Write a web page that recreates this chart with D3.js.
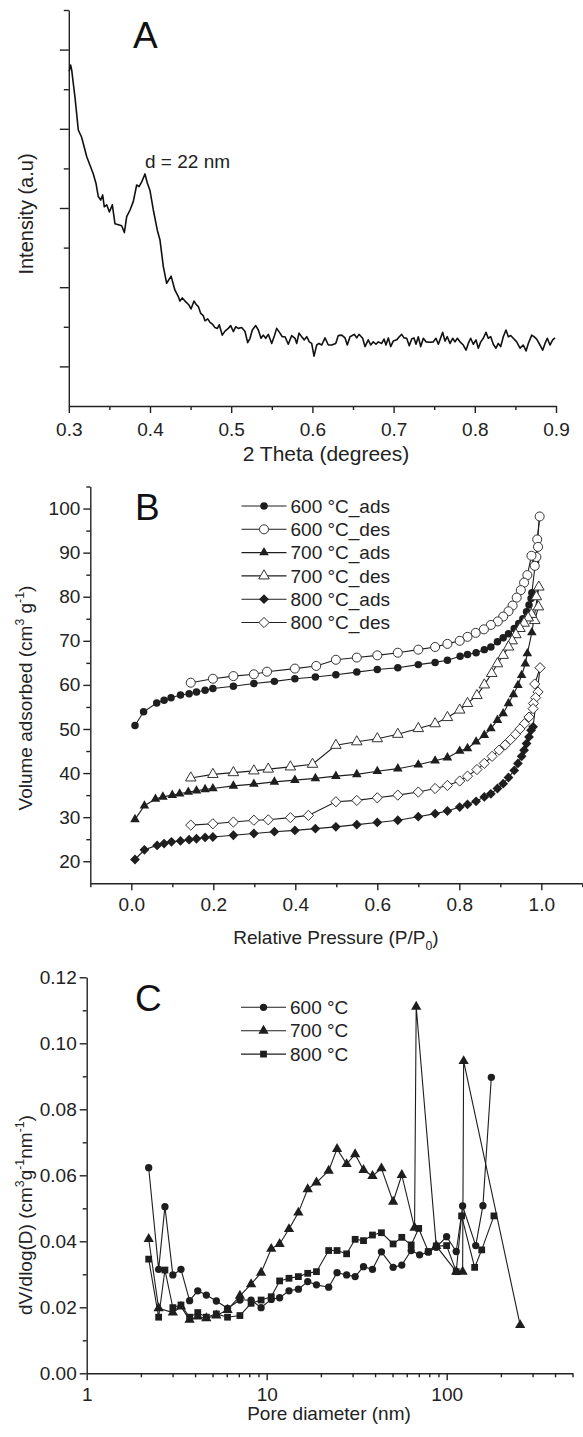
<!DOCTYPE html>
<html>
<head>
<meta charset="utf-8">
<script src="https://cdn.jsdelivr.net/npm/d3@7"></script>
<style>
  body { margin: 0; background: #fff; }
  svg { display: block; font-family: "Liberation Sans", Arial, sans-serif; }
  .axis path, .axis line { stroke: #222; stroke-width: 1.4; }
  .axis text { font-size: 19px; fill: #222; font-family: "Liberation Sans", Arial, sans-serif; }
  .lbl { font-size: 19px; fill: #222; }
</style>
</head>
<body>
<script>
// ---- panel A : low angle XRD, [2 theta, intensity in tick units]
const xrd = [
  [0.3005,8.45],[0.3023,8.61],[0.3036,8.48],[0.3055,8.15],[0.3076,7.80],[0.3117,6.97],[0.3159,6.78],[0.3220,6.30],
  [0.3300,5.87],[0.3335,5.62],[0.3363,5.29],[0.3393,5.20],[0.3417,5.33],[0.3437,5.03],[0.3467,5.08],[0.3500,4.90],
  [0.3536,5.08],[0.3569,4.60],[0.3651,4.55],[0.3684,4.38],[0.3713,4.78],[0.3754,4.95],[0.3794,5.16],[0.3836,5.58],
  [0.3865,5.54],[0.3898,5.66],[0.3938,5.86],[0.3967,5.63],[0.3999,5.45],[0.4041,4.95],[0.4090,4.44],[0.4123,4.19],
  [0.4164,3.52],[0.4205,3.10],[0.4260,3.28],[0.4306,2.93],[0.4349,2.76],[0.4369,2.65],[0.4398,2.73],[0.4431,2.65],
  [0.4480,2.55],[0.4505,2.45],[0.4542,2.65],[0.4567,2.57],[0.4595,2.51],[0.4624,2.34],[0.4656,2.28],[0.4677,2.15],
  [0.4711,2.20],[0.4739,2.11],[0.4772,2.06],[0.4800,1.98],[0.4829,1.96],[0.4853,2.05],[0.4890,1.79],[0.4924,1.89],
  [0.4964,1.96],[0.4994,2.03],[0.5026,1.88],[0.5055,2.00],[0.5087,1.96],[0.5129,1.98],[0.5170,1.88],[0.5203,1.60],
  [0.5232,1.71],[0.5260,1.92],[0.5302,2.03],[0.5334,1.92],[0.5367,1.71],[0.5395,1.79],[0.5425,1.71],[0.5457,1.81],
  [0.5499,1.58],[0.5531,1.77],[0.5560,1.96],[0.5601,1.84],[0.5629,1.75],[0.5663,1.75],[0.5703,1.56],[0.5745,1.78],
  [0.5786,1.71],[0.5807,1.58],[0.5835,1.84],[0.5868,1.75],[0.5900,1.67],[0.5930,1.75],[0.5962,1.62],[0.5991,1.58],
  [0.6020,1.26],[0.6053,1.54],[0.6081,1.58],[0.6115,1.54],[0.6155,1.72],[0.6196,1.54],[0.6238,1.54],[0.6287,1.58],
  [0.6319,1.78],[0.6361,1.79],[0.6402,1.72],[0.6430,1.54],[0.6463,1.75],[0.6491,1.78],[0.6516,1.81],[0.6546,1.72],
  [0.6574,1.81],[0.6619,1.71],[0.6648,1.50],[0.6688,1.67],[0.6718,1.54],[0.6750,1.62],[0.6783,1.56],[0.6812,1.62],
  [0.6853,1.58],[0.6882,1.69],[0.6906,1.54],[0.6935,1.72],[0.6964,1.50],[0.6996,1.64],[0.7038,1.67],[0.7070,1.75],
  [0.7100,1.81],[0.7128,1.72],[0.7161,1.71],[0.7193,1.52],[0.7223,1.69],[0.7251,1.72],[0.7276,1.56],[0.7304,1.75],
  [0.7334,1.50],[0.7366,1.71],[0.7399,1.62],[0.7448,1.61],[0.7489,1.62],[0.7522,1.71],[0.7551,1.56],[0.7580,1.72],
  [0.7605,1.86],[0.7633,1.64],[0.7661,1.75],[0.7695,1.58],[0.7728,1.71],[0.7756,1.62],[0.7785,1.71],[0.7818,1.62],
  [0.7858,1.54],[0.7892,1.41],[0.7920,1.58],[0.7949,1.71],[0.7982,1.56],[0.8015,1.67],[0.8043,1.46],[0.8073,1.62],
  [0.8105,1.71],[0.8138,1.86],[0.8166,1.71],[0.8196,1.75],[0.8228,1.56],[0.8261,1.46],[0.8289,1.58],[0.8319,1.50],
  [0.8351,1.75],[0.8384,1.92],[0.8413,1.75],[0.8442,1.78],[0.8474,1.71],[0.8516,1.62],[0.8557,1.46],[0.8597,1.54],
  [0.8631,1.39],[0.8659,1.58],[0.8701,1.79],[0.8729,1.75],[0.8762,1.69],[0.8803,1.54],[0.8836,1.41],[0.8865,1.58],
  [0.8893,1.71],[0.8926,1.54],[0.8959,1.67],[0.8988,1.72]
];
const xrdTicks = [0.3, 0.4, 0.5, 0.6, 0.7, 0.8, 0.9];

// ---- panel B : N2 isotherms, [P/P0, volume]
const ads600 = [[0.009,50.8],[0.030,53.9],[0.062,55.9],[0.080,56.5],[0.097,57.1],[0.120,57.7],[0.141,58.0],[0.159,58.4],
  [0.180,58.8],[0.199,59.2],[0.249,59.7],[0.299,60.3],[0.349,60.8],[0.399,61.4],[0.449,61.8],[0.499,62.3],[0.550,62.9],
  [0.600,63.5],[0.650,63.9],[0.700,64.6],[0.741,65.1],[0.771,65.6],[0.802,66.5],[0.820,66.9],[0.841,67.3],[0.861,68.0],
  [0.877,68.6],[0.893,69.8],[0.907,70.7],[0.920,71.6],[0.934,72.8],[0.945,73.9],[0.955,75.0],[0.964,76.6],[0.970,78.1],
  [0.975,79.6],[0.977,80.9],[0.986,88.0],[0.996,98.2]];
const des600 = [[0.996,98.2],[0.990,93.0],[0.992,91.3],[0.988,89.0],[0.984,87.0],[0.976,89.3],[0.966,84.9],[0.958,83.2],
  [0.950,81.5],[0.940,79.8],[0.930,78.0],[0.920,76.7],[0.907,75.5],[0.894,74.4],[0.877,73.6],[0.860,72.6],[0.840,71.8],
  [0.820,70.9],[0.801,70.0],[0.771,69.3],[0.741,68.6],[0.700,68.0],[0.650,67.3],[0.600,66.7],[0.550,66.2],[0.499,65.7],
  [0.451,64.3],[0.399,63.7],[0.331,63.0],[0.299,62.4],[0.249,62.0],[0.199,61.4],[0.145,60.5]];
const ads700 = [[0.009,29.5],[0.032,32.6],[0.059,34.1],[0.077,34.6],[0.100,35.0],[0.118,35.3],[0.139,35.7],[0.159,36.0],
  [0.180,36.3],[0.199,36.5],[0.249,37.1],[0.299,37.5],[0.349,38.0],[0.399,38.4],[0.449,38.8],[0.499,39.3],[0.550,39.7],
  [0.600,40.4],[0.650,41.0],[0.700,41.9],[0.741,42.8],[0.771,43.5],[0.801,45.0],[0.820,45.6],[0.841,47.1],[0.861,48.6],
  [0.877,50.1],[0.893,52.0],[0.907,53.5],[0.920,55.8],[0.932,57.8],[0.943,59.9],[0.952,62.2],[0.961,64.8],[0.966,67.1],
  [0.977,71.9],[0.994,82.2]];
const des700 = [[0.994,82.2],[0.988,80.0],[0.993,77.7],[0.984,74.6],[0.976,76.0],[0.968,75.2],[0.958,74.0],[0.948,72.8],
  [0.938,71.4],[0.929,70.0],[0.920,68.6],[0.907,66.7],[0.893,64.8],[0.879,62.6],[0.861,60.0],[0.843,57.6],[0.820,55.8],
  [0.801,54.3],[0.771,52.6],[0.741,51.2],[0.700,50.1],[0.650,48.8],[0.600,47.8],[0.550,47.1],[0.499,46.3],[0.442,42.0],
  [0.388,41.4],[0.334,40.9],[0.299,40.5],[0.249,40.1],[0.199,39.7],[0.145,38.9]];
const ads800 = [[0.009,20.4],[0.032,22.6],[0.063,23.6],[0.080,24.0],[0.098,24.4],[0.120,24.6],[0.141,24.9],[0.159,25.1],
  [0.180,25.4],[0.199,25.5],[0.249,25.9],[0.299,26.3],[0.349,26.7],[0.399,27.0],[0.449,27.4],[0.499,27.8],[0.550,28.3],
  [0.600,28.8],[0.650,29.3],[0.700,30.1],[0.741,30.8],[0.771,31.4],[0.801,32.3],[0.820,32.9],[0.841,33.6],[0.861,34.6],
  [0.877,35.3],[0.893,36.5],[0.907,37.6],[0.920,39.0],[0.934,40.6],[0.943,42.2],[0.952,43.8],[0.958,45.2],[0.964,46.7],
  [0.970,48.2],[0.975,49.7],[0.980,50.5],[0.997,63.9]];
const des800 = [[0.997,63.9],[0.984,60.2],[0.992,58.4],[0.986,57.1],[0.981,55.8],[0.980,54.6],[0.970,52.7],[0.959,51.2],
  [0.948,50.0],[0.937,48.8],[0.925,47.6],[0.912,46.4],[0.897,45.2],[0.880,43.8],[0.861,42.2],[0.843,40.8],[0.820,39.3],
  [0.801,38.2],[0.771,37.2],[0.741,36.5],[0.700,35.7],[0.650,35.0],[0.600,34.4],[0.550,33.8],[0.499,33.5],[0.432,30.4],
  [0.388,29.9],[0.334,29.4],[0.299,29.3],[0.249,28.9],[0.199,28.5],[0.145,28.2]];
const isoNames = ['600 °C_ads', '600 °C_des', '700 °C_ads', '700 °C_des', '800 °C_ads', '800 °C_des'];
const isoXTicks = [0.0, 0.2, 0.4, 0.6, 0.8, 1.0];
const isoYTicks = [20, 30, 40, 50, 60, 70, 80, 90, 100];

// ---- panel C : pore size distribution, [D nm, dV/dlogD]
const psd600 = [[2.21,0.0623],[2.51,0.0315],[2.72,0.0505],[3.01,0.0298],[3.34,0.0315],[3.73,0.0220],[4.14,0.0250],
  [4.62,0.0237],[5.25,0.0219],[6.06,0.0197],[7.10,0.0222],[8.19,0.0222],[9.31,0.0199],[10.6,0.0224],[11.8,0.0229],
  [13.3,0.0250],[15.0,0.0255],[16.9,0.0278],[18.9,0.0268],[22.1,0.0261],[24.6,0.0305],[27.8,0.0298],[31.0,0.0293],
  [34.5,0.0323],[38.7,0.0315],[43.4,0.0368],[50.4,0.0321],[56.3,0.0328],[63.5,0.0372],[70.7,0.0359],[79.0,0.0367],
  [87.5,0.0382],[99.9,0.0414],[113,0.0369],[122.6,0.0507],[145,0.0387],[159,0.0508],[177,0.0897]];
const psd700 = [[2.21,0.0407],[2.51,0.0197],[3.01,0.0184],[3.34,0.0202],[3.73,0.0162],[4.14,0.0172],[4.62,0.0167],
  [5.25,0.0175],[6.06,0.0192],[7.10,0.0235],[8.19,0.0270],[9.31,0.0305],[10.6,0.0377],[11.8,0.0392],[13.3,0.0437],
  [15.0,0.0487],[16.9,0.0558],[18.9,0.0578],[22.1,0.0614],[24.6,0.0680],[27.8,0.0634],[31.0,0.0664],[34.5,0.0616],
  [38.7,0.0598],[43.4,0.0621],[50.4,0.0520],[56.3,0.0601],[66.3,0.0441],[67.7,0.1111],[87.5,0.0386],[113,0.0308],
  [122.6,0.0308],[124.2,0.0946],[256,0.0146]];
const psd800 = [[2.21,0.0346],[2.51,0.0170],[2.72,0.0313],[3.01,0.0199],[3.34,0.0207],[3.73,0.0170],[4.14,0.0184],
  [4.62,0.0170],[5.25,0.0180],[6.06,0.0170],[7.10,0.0175],[8.19,0.0212],[9.31,0.0222],[10.6,0.0232],[11.8,0.0280],
  [13.3,0.0288],[15.0,0.0293],[16.9,0.0303],[18.9,0.0308],[22.1,0.0372],[24.6,0.0372],[27.8,0.0362],[31.0,0.0406],
  [34.5,0.0402],[38.7,0.0419],[43.4,0.0426],[50.4,0.0392],[56.3,0.0412],[63.5,0.0389],[69.9,0.0439],[79.0,0.0369],
  [87.5,0.0386],[99.9,0.0387],[113,0.0308],[121,0.0477],[143,0.0321],[156.5,0.0374],[183,0.0477]];
const psdNames = ['600 °C', '700 °C', '800 °C'];
const psdYTicks = [0.00, 0.02, 0.04, 0.06, 0.08, 0.10, 0.12];
const psdXTicks = [1, 10, 100];

const W = 583, H = 1437;
const ink = '#1e1e1e';
const svg = d3.select('body').append('svg').attr('width', W).attr('height', H);

// rotated square
const symDiamond = {
  draw(ctx, size) {
    const r = Math.sqrt(size / 2);
    ctx.moveTo(0, -r); ctx.lineTo(r, 0); ctx.lineTo(0, r); ctx.lineTo(-r, 0); ctx.closePath();
  }
};

function axes(g, x, y, o) {
  const xa = g.append('g').attr('transform', `translate(0,${y.range()[0]})`);
  xa.append('g').attr('class', 'axis')
    .call(d3.axisBottom(x).tickValues(o.xMinor).tickSize(4).tickFormat(''))
    .call(s => s.select('.domain').remove());
  xa.append('g').attr('class', 'axis')
    .call(d3.axisBottom(x).tickValues(o.xMajor).tickSize(o.xLen || 7).tickSizeOuter(0)
      .tickPadding(o.xPad || 6).tickFormat(o.xFmt));

  const ya = g.append('g').attr('transform', `translate(${x.range()[0]},0)`);
  ya.append('g').attr('class', 'axis')
    .call(d3.axisLeft(y).tickValues(o.yMinor).tickSize(o.yMinLen || 4).tickFormat(''))
    .call(s => s.select('.domain').remove());
  ya.append('g').attr('class', 'axis')
    .call(d3.axisLeft(y).tickValues(o.yMajor).tickSize(o.yLen || 7).tickSizeOuter(0)
      .tickPadding(3).tickFormat(o.yFmt || ''));
}

// text with super/subscripts: parts = [[str, 'n'|'sup'|'sub'], ...]
function rich(g, parts, size) {
  const t = g.append('text').attr('class', 'lbl').attr('text-anchor', 'middle').style('font-size', size + 'px');
  let shift = 0;
  parts.forEach(([s, k]) => {
    const target = k === 'sup' ? -0.4 * size : k === 'sub' ? 0.3 * size : 0;
    t.append('tspan').attr('dy', target - shift)
      .style('font-size', (k === 'n' ? size : size * 0.65) + 'px').text(s);
    shift = target;
  });
  return t;
}

function series(g, data, x, y, sym, size, filled) {
  g.append('path').datum(data)
    .attr('fill', 'none').attr('stroke', ink).attr('stroke-width', 1.1)
    .attr('d', d3.line().x(d => x(d[0])).y(d => y(d[1])));
  g.selectAll(null).data(data).join('path')
    .attr('transform', d => `translate(${x(d[0])},${y(d[1])})`)
    .attr('d', d3.symbol().type(sym).size(size))
    .attr('fill', filled ? ink : '#fff')
    .attr('stroke', filled ? 'none' : '#333').attr('stroke-width', 1);
}

function legend(g, items, x0, y0, dy) {
  items.forEach((it, i) => {
    const yy = y0 + i * dy;
    g.append('line').attr('x1', x0).attr('x2', x0 + 45).attr('y1', yy).attr('y2', yy)
      .attr('stroke', ink).attr('stroke-width', 1.1);
    g.append('path').attr('transform', `translate(${x0 + 22.5},${yy})`)
      .attr('d', d3.symbol().type(it.sym).size(it.size))
      .attr('fill', it.filled ? ink : '#fff')
      .attr('stroke', it.filled ? 'none' : '#333');
    g.append('text').attr('class', 'lbl').attr('x', x0 + 49).attr('y', yy).attr('dy', '0.35em').text(it.name);
  });
}

// ================= A
{
  const g = svg.append('g');
  const x = d3.scaleLinear([0.3, 0.9], [68.8, 556]);
  const y = d3.scaleLinear([0, 10], [406, 10]);
  axes(g, x, y, {
    xMajor: xrdTicks, xMinor: d3.range(0.35, 0.9, 0.1), xFmt: d3.format('.1f'), xPad: 10,
    yMajor: [1, 3, 5, 7, 9], yMinor: [2, 4, 6, 8, 10], yLen: 9, yMinLen: 5
  });
  g.append('path').datum(xrd)
    .attr('fill', 'none').attr('stroke', '#111').attr('stroke-width', 1.6).attr('stroke-linejoin', 'round')
    .attr('d', d3.line().x(d => x(d[0])).y(d => y(d[1])));
  g.append('text').attr('x', 133).attr('y', 48).style('font-size', '37px').attr('fill', '#111').text('A');
  g.append('text').attr('class', 'lbl').attr('x', 145).attr('y', 168).style('font-size', '19px').text('d = 22 nm');
  g.append('text').attr('class', 'lbl').attr('x', 326).attr('y', 461).attr('text-anchor', 'middle')
    .style('font-size', '21px').text('2 Theta (degrees)');
  g.append('text').attr('class', 'lbl').attr('transform', 'translate(26,214) rotate(-90)')
    .attr('text-anchor', 'middle').attr('dy', '0.35em').style('font-size', '20px').text('Intensity (a.u)');
}

// ================= B
{
  const g = svg.append('g');
  const x = d3.scaleLinear([-0.1, 1.1], [90.3, 582.3]);
  const y = d3.scaleLinear([15, 105], [883.3, 486.5]);
  axes(g, x, y, {
    xMajor: isoXTicks, xMinor: [-0.1, 0.1, 0.3, 0.5, 0.7, 0.9, 1.1], xFmt: d3.format('.1f'), xPad: 7,
    yMajor: isoYTicks, yMinor: [25, 35, 45, 55, 65, 75, 85, 95, 105], yFmt: d3.format('d')
  });
  const sets = [
    { d: ads600, sym: d3.symbolCircle, size: 44, filled: true },
    { d: des600, sym: d3.symbolCircle, size: 64, filled: false },
    { d: ads700, sym: d3.symbolTriangle, size: 40, filled: true },
    { d: des700, sym: d3.symbolTriangle, size: 48, filled: false },
    { d: ads800, sym: symDiamond, size: 48, filled: true },
    { d: des800, sym: symDiamond, size: 52, filled: false }
  ];
  sets.forEach(s => series(g.append('g'), s.d, x, y, s.sym, s.size, s.filled));
  legend(g, sets.map((s, i) => ({ ...s, name: isoNames[i] })), 241.5, 506, 23.3);
  g.append('text').attr('x', 135).attr('y', 520).style('font-size', '37px').attr('fill', '#111').text('B');
  rich(g.append('g').attr('transform', 'translate(336,944)'),
    [['Relative Pressure (P/P', 'n'], ['0', 'sub'], [')', 'n']], 19);
  rich(g.append('g').attr('transform', 'translate(32,698) rotate(-90)'),
    [['Volume adsorbed (cm', 'n'], ['3', 'sup'], [' g', 'n'], ['-1', 'sup'], [')', 'n']], 19);
}

// ================= C
{
  const g = svg.append('g');
  const x = d3.scaleLog([1, 500], [86.7, 572.5]);
  const y = d3.scaleLinear([0, 0.12], [1373.3, 977.3]);
  const minors = [2, 3, 4, 5, 6, 7, 8, 9, 20, 30, 40, 50, 60, 70, 80, 90, 200, 300, 400, 500];
  axes(g, x, y, {
    xMajor: psdXTicks, xMinor: minors, xFmt: d3.format('d'), xPad: 7,
    yMajor: psdYTicks, yMinor: [0.01, 0.03, 0.05, 0.07, 0.09, 0.11], yFmt: d3.format('.2f')
  });
  const sets = [
    { d: psd600, sym: d3.symbolCircle, size: 42, filled: true },
    { d: psd700, sym: d3.symbolTriangle, size: 46, filled: true },
    { d: psd800, sym: d3.symbolSquare, size: 46, filled: true }
  ];
  sets.forEach(s => series(g.append('g'), s.d, x, y, s.sym, s.size, s.filled));
  legend(g, sets.map((s, i) => ({ ...s, name: psdNames[i] })), 241, 1007.3, 23.4);
  g.append('text').attr('x', 135).attr('y', 1011).style('font-size', '37px').attr('fill', '#111').text('C');
  g.append('text').attr('class', 'lbl').attr('x', 329).attr('y', 1420).attr('text-anchor', 'middle').text('Pore diameter (nm)');
  rich(g.append('g').attr('transform', 'translate(32,1215) rotate(-90)'),
    [['dV/dlog(D) (cm', 'n'], ['3', 'sup'], ['g', 'n'], ['-1', 'sup'], ['nm', 'n'], ['-1', 'sup'], [')', 'n']], 19);
}
</script>
</body>
</html>
